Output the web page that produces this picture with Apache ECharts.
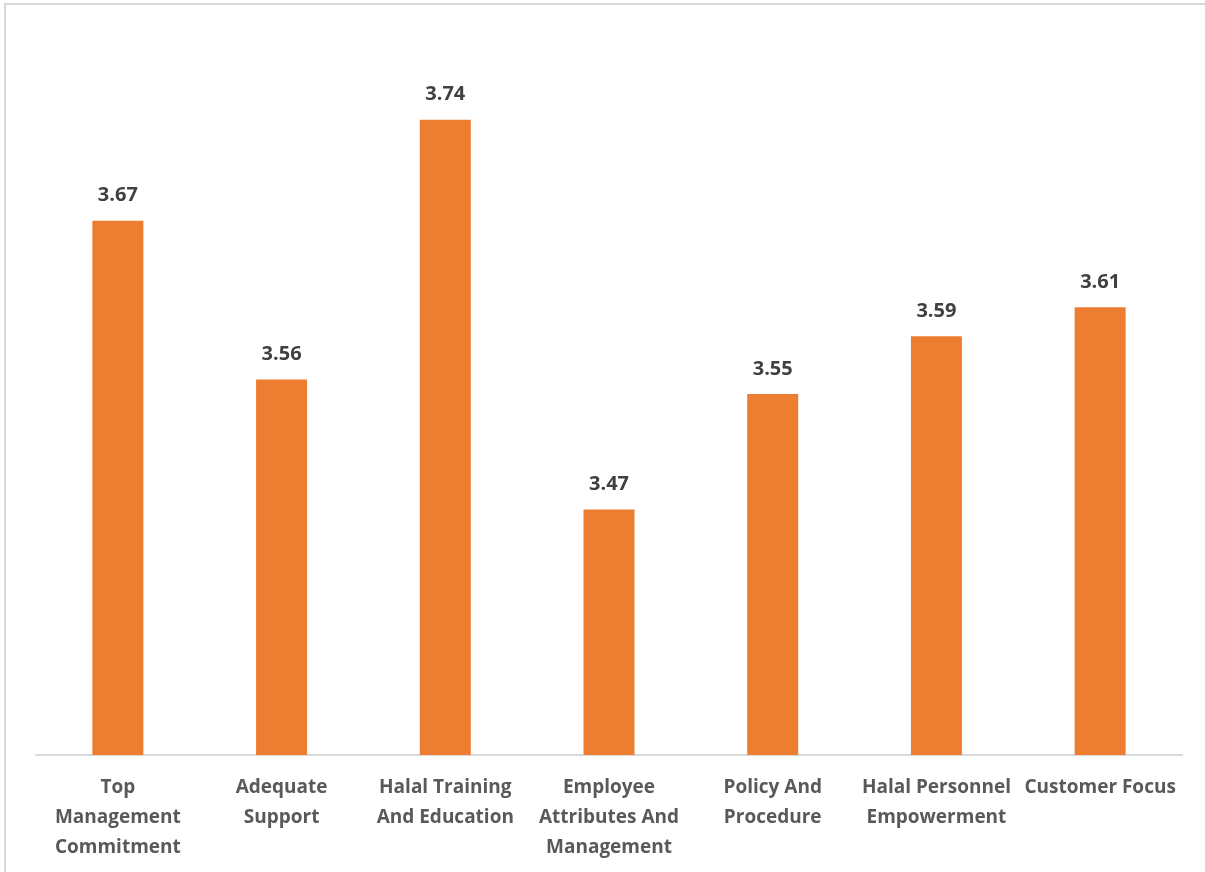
<!DOCTYPE html>
<html>
<head>
<meta charset="utf-8">
<script src="https://cdn.jsdelivr.net/npm/echarts@6/dist/echarts.min.js"></script>
<style>
  html, body { margin: 0; padding: 0; background: #fff; }
  #chart { width: 1205px; height: 872px; }
</style>
</head>
<body>
<div id="chart"></div>
<script>
// Dimension names (line breaks mark where each label wraps)
const categories = [
  'Top\nManagement\nCommitment',
  'Adequate\nSupport',
  'Halal Training\nAnd Education',
  'Employee\nAttributes And\nManagement',
  'Policy And\nProcedure',
  'Halal Personnel\nEmpowerment',
  'Customer Focus'
];
// Mean scores
const scores = [3.67, 3.56, 3.74, 3.47, 3.55, 3.59, 3.61];

const chart = echarts.init(document.getElementById('chart'));
chart.setOption({
  backgroundColor: '#ffffff',
  animation: false,
  graphic: [{
    type: 'rect',
    shape: { x: 5, y: 4, width: 1300, height: 1000 },
    style: { fill: 'none', stroke: '#d9d9d9', lineWidth: 2 },
    silent: true
  }],
  grid: { left: 36, right: 23, top: 33, bottom: 117 },
  xAxis: {
    type: 'category',
    data: categories,
    axisTick: { show: false },
    axisLine: { lineStyle: { color: '#d9d9d9', width: 2 } },
    axisLabel: {
      interval: 0,
      margin: 18,
      color: '#595959',
      fontFamily: 'Open Sans',
      fontWeight: 'bold',
      fontSize: 19,
      lineHeight: 30
    }
  },
  yAxis: {
    type: 'value',
    min: 3.3,
    max: 3.8,
    show: false,
    splitLine: { show: false }
  },
  series: [{
    type: 'bar',
    data: scores,
    barWidth: 51,
    itemStyle: { color: '#ED7D31' },
    label: {
      show: true,
      position: 'top',
      distance: 15,
      color: '#404040',
      fontFamily: 'Open Sans',
      fontWeight: 'bold',
      fontSize: 20,
      formatter: p => p.value.toFixed(2)
    }
  }]
});
</script>
</body>
</html>
